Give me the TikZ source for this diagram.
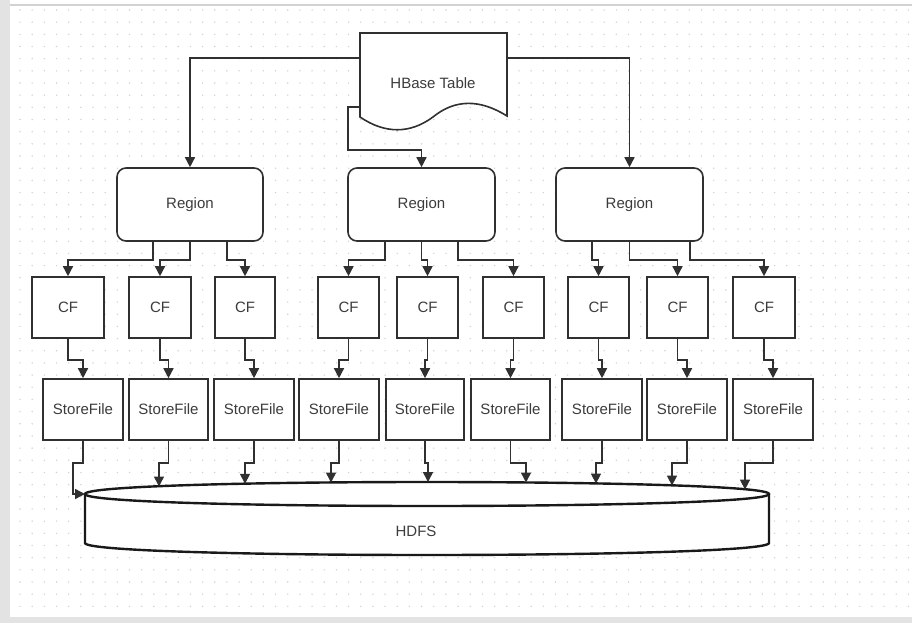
\documentclass[tikz,border=0pt]{standalone}
\usepackage{fontspec}
\setmainfont{Liberation Sans}
\usetikzlibrary{arrows.meta}
\definecolor{ln}{HTML}{303030}
\definecolor{tx}{HTML}{3C3C3C}
\definecolor{dotc}{HTML}{D2D2D2}
\definecolor{frm}{HTML}{E3E3E3}
\definecolor{frml}{HTML}{D2D2D2}
\begin{document}
\begin{tikzpicture}[x=1pt,y=-1pt,
  conn/.style={draw=ln, line width=1.5pt, -{Triangle[width=10pt,length=10pt]}},
  box/.style={draw=ln, fill=white, line width=1.6pt, minimum height=61pt, inner sep=0pt,
    font=\fontsize{15}{18}\selectfont, text=tx},
  regbox/.style={box, rounded corners=9pt, minimum height=73pt},
  lbl/.style={font=\fontsize{15}{18}\selectfont, text=tx, inner sep=0pt},
  cyl/.style={draw=black!90, line width=2.4pt}]
\useasboundingbox (0,0) rectangle (912,623);
% frame and canvas
\fill[white] (0,0) rectangle (912,623);
\fill[frm] (0,0) rectangle (10,623);
\fill[frm] (0,617) rectangle (912,623);
\draw[frml, line width=2pt] (10,5) -- (912,5);
\foreach \i in {0,...,73} {\foreach \j in {0,...,49} {\fill[dotc] (20+12.17*\i, 10+12.17*\j) circle (0.8pt);}}

% HBase Table (document shape)
\node[minimum width=147pt, minimum height=84pt, inner sep=0pt] (hb) at (433.5,75) {};
\draw[ln, fill=white, line width=1.6pt] (360,117) -- (360,33) -- (507,33) -- (507,116)
  .. controls (480,99) and (455,99) .. (433,117)
  .. controls (410,134) and (385,134) .. (360,117) -- cycle;
\node[lbl] (hbt) at (433,83) {HBase Table};

% Regions
\node[regbox, minimum width=146pt] (reg1) at (190,204.5) {Region};
\node[regbox, minimum width=147pt] (reg2) at (421.5,204.5) {Region};
\node[regbox, minimum width=147pt] (reg3) at (629.5,204.5) {Region};

% CF boxes
\node[box, minimum width=72pt] (cf1) at (68,307.5) {CF};
\node[box, minimum width=62pt] (cf2) at (160,307.5) {CF};
\node[box, minimum width=60pt] (cf3) at (245,307.5) {CF};
\node[box, minimum width=61pt] (cf4) at (348.5,307.5) {CF};
\node[box, minimum width=61pt] (cf5) at (427.5,307.5) {CF};
\node[box, minimum width=61pt] (cf6) at (513.5,307.5) {CF};
\node[box, minimum width=61pt] (cf7) at (598.5,307.5) {CF};
\node[box, minimum width=61pt] (cf8) at (677.5,307.5) {CF};
\node[box, minimum width=62pt] (cf9) at (764,307.5) {CF};

% StoreFile boxes
\node[box, minimum width=80pt] (sf1) at (83,409.5) {StoreFile};
\node[box, minimum width=79pt] (sf2) at (168.5,409.5) {StoreFile};
\node[box, minimum width=80pt] (sf3) at (254,409.5) {StoreFile};
\node[box, minimum width=80pt] (sf4) at (339,409.5) {StoreFile};
\node[box, minimum width=78pt] (sf5) at (425,409.5) {StoreFile};
\node[box, minimum width=79pt] (sf6) at (510.5,409.5) {StoreFile};
\node[box, minimum width=80pt] (sf7) at (602,409.5) {StoreFile};
\node[box, minimum width=80pt] (sf8) at (687,409.5) {StoreFile};
\node[box, minimum width=80pt] (sf9) at (773,409.5) {StoreFile};

% HDFS cylinder
\fill[white] (85,494) -- (85,543) .. controls (85,559) and (769,559) .. (769,543) -- (769,494) -- cycle;
\draw[cyl] (85,494) -- (85,543) .. controls (85,559) and (769,559) .. (769,543) -- (769,494);
\draw[cyl, fill=white] (85,494) .. controls (85,478) and (769,478) .. (769,494)
  .. controls (769,510) and (85,510) .. (85,494) -- cycle;
\node[lbl] (hdfs) at (416,531) {HDFS};
\coordinate (hl) at (85,494);
\coordinate (t2) at (159,486.5);
\coordinate (t3) at (245,483.8);
\coordinate (t4) at (331,482.5);
\coordinate (t5) at (428,482);
\coordinate (t6) at (526,482.5);
\coordinate (t7) at (596,483.6);
\coordinate (t8) at (672,485.6);
\coordinate (t9) at (745,489.6);

% HBase -> Regions
\draw[conn] ([yshift=17pt]hb.west) -| (reg1.north);
\draw[conn] ([yshift=17pt]hb.east) -| (reg3.north);
\draw[conn] ([yshift=-32pt]hb.west) -- ++(-12,0) -- ++(0,43) -| (reg2.north);

% Regions -> CF
\draw[conn] ([xshift=-37pt]reg1.south) -- ++(0,18) -| (cf1.north);
\draw[conn] (reg1.south) -- ++(0,18) -| (cf2.north);
\draw[conn] ([xshift=37pt]reg1.south) -- ++(0,18) -| (cf3.north);
\draw[conn] ([xshift=-36.5pt]reg2.south) -- ++(0,18) -| (cf4.north);
\draw[conn] (reg2.south) -- ++(0,18) -| (cf5.north);
\draw[conn] ([xshift=36.5pt]reg2.south) -- ++(0,18) -| (cf6.north);
\draw[conn] ([xshift=-37.5pt]reg3.south) -- ++(0,18) -| (cf7.north);
\draw[conn] (reg3.south) -- ++(0,18) -| (cf8.north);
\draw[conn] ([xshift=60.5pt]reg3.south) -- ++(0,18) -| (cf9.north);

% CF -> StoreFile
\foreach \k in {1,...,9} {\draw[conn] (cf\k.south) -- ++(0,21) -| (sf\k.north);}

% StoreFile -> HDFS
\draw[conn] (sf1.south) -- ++(0,22) -- ++(-10,0) |- (hl);
\foreach \k in {2,...,9} {\draw[conn] (sf\k.south) -- ++(0,22) -| (t\k);}
\end{tikzpicture}
\end{document}
